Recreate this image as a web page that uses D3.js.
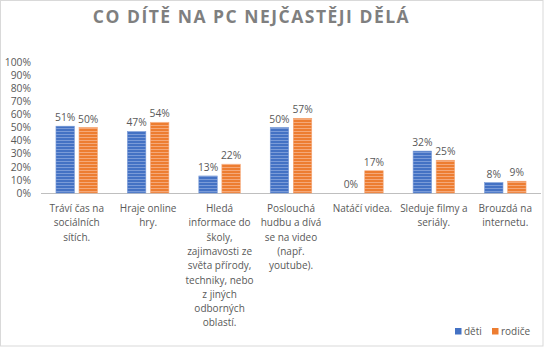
<!DOCTYPE html>
<html><head><meta charset="utf-8">
<script src="https://cdn.jsdelivr.net/npm/d3@7/dist/d3.min.js"></script>
<style>body{margin:0;background:#fff}svg{display:block}</style>
</head><body>
<svg id="c" width="544" height="347"></svg>
<script>
const title = "CO DÍTĚ NA PC NEJČASTĚJI DĚLÁ";
const categories = [
  "Tráví čas na\nsociálních\nsítích.",
  "Hraje online\nhry.",
  "Hledá\ninformace do\nškoly,\nzajimavosti ze\nsvěta přírody,\ntechniky, nebo\nz jiných\nodborných\noblastí.",
  "Poslouchá\nhudbu a dívá\nse na video\n(např.\nyoutube).",
  "Natáčí videa.",
  "Sleduje filmy a\nseriály.",
  "Brouzdá na\ninternetu."
];
const seriesNames = ["děti", "rodiče"];
const deti = [51, 47, 13, 50, 0, 32, 8];
const rodice = [50, 54, 22, 57, 17, 25, 9];
const yTicks = [0,10,20,30,40,50,60,70,80,90,100];

const svg = d3.select("#c");
const W = 544, H = 347;
const font = "'Open Sans', sans-serif";
const txt = "#595959";

svg.append("rect").attr("x",0.5).attr("y",0.5).attr("width",W-1.5).attr("height",H-1.5)
  .attr("fill","#fff").attr("stroke","#d9d9d9");

const defs = svg.append("defs");
const colors = {"děti":["#4472C4","#7a9bd8"], "rodiče":["#ED7D31","#f5a878"]};
seriesNames.forEach((s,i)=>{
  const p = defs.append("pattern").attr("id","pat"+i).attr("patternUnits","userSpaceOnUse")
    .attr("width",6).attr("height",3);
  p.append("rect").attr("width",6).attr("height",3).attr("fill",colors[s][0]);
  p.append("rect").attr("y",2).attr("width",6).attr("height",1).attr("fill",colors[s][1]);
});

const x = d3.scaleBand().domain(categories).range([41, 541]);
const xs = d3.scaleBand().domain(seriesNames)
  .range([x.bandwidth()/2 - 20.75, x.bandwidth()/2 + 20.75]).paddingInner(0.2);
const y = d3.scaleLinear().domain([0,100]).range([193, 62]);

svg.append("text").attr("x",251.5).attr("y",23).attr("text-anchor","middle")
  .attr("font-family",font).attr("font-weight","bold").attr("font-size",17.5)
  .attr("letter-spacing",1.5).attr("fill","#7f7f7f").text(title);

// y axis labels
const ya = svg.append("g").attr("transform","translate(31,0)")
  .call(d3.axisLeft(y).tickValues(yTicks).tickFormat(d=>d+"%").tickSize(0).tickPadding(0));
ya.select(".domain").remove();
ya.selectAll("text").attr("font-family",font).attr("font-size",10.3).attr("fill",txt);

// baseline
svg.append("line").attr("x1",41).attr("x2",541).attr("y1",y(0)+0.5).attr("y2",y(0)+0.5)
  .attr("stroke","#bfbfbf").attr("stroke-width",1);

const series = [deti, rodice];
const g = svg.append("g");
seriesNames.forEach((s,si)=>{
  categories.forEach((c,ci)=>{
    const v = series[si][ci];
    const bx = x(c) + xs(s);
    g.append("rect").attr("x",bx).attr("y",y(v)).attr("width",xs.bandwidth())
      .attr("height",y(0)-y(v)).attr("fill","url(#pat"+si+")")
      .attr("stroke", colors[s][1]).attr("stroke-width",0.6);
    g.append("text").attr("x",bx+xs.bandwidth()/2).attr("y",y(v)-5)
      .attr("text-anchor","middle").attr("font-family",font).attr("font-size",10.3)
      .attr("fill",txt).text(v+"%");
  });
});

// category labels
categories.forEach(c=>{
  const t = svg.append("text").attr("text-anchor","middle").attr("font-family",font)
    .attr("font-size",10).attr("fill",txt);
  c.split("\n").forEach((ln,i)=>{
    t.append("tspan").attr("x",x(c)+x.bandwidth()/2).attr("y",212+i*14.3).text(ln);
  });
});

// legend
const lg = svg.append("g");
const lx = [455, 492];
seriesNames.forEach((s,i)=>{
  lg.append("rect").attr("x",lx[i]).attr("y",328).attr("width",6.5).attr("height",6.5)
    .attr("fill",colors[s][0]);
  lg.append("text").attr("x",lx[i]+9).attr("y",335).attr("font-family",font)
    .attr("font-size",10).attr("fill",txt).text(s);
});
</script>
</body></html>
